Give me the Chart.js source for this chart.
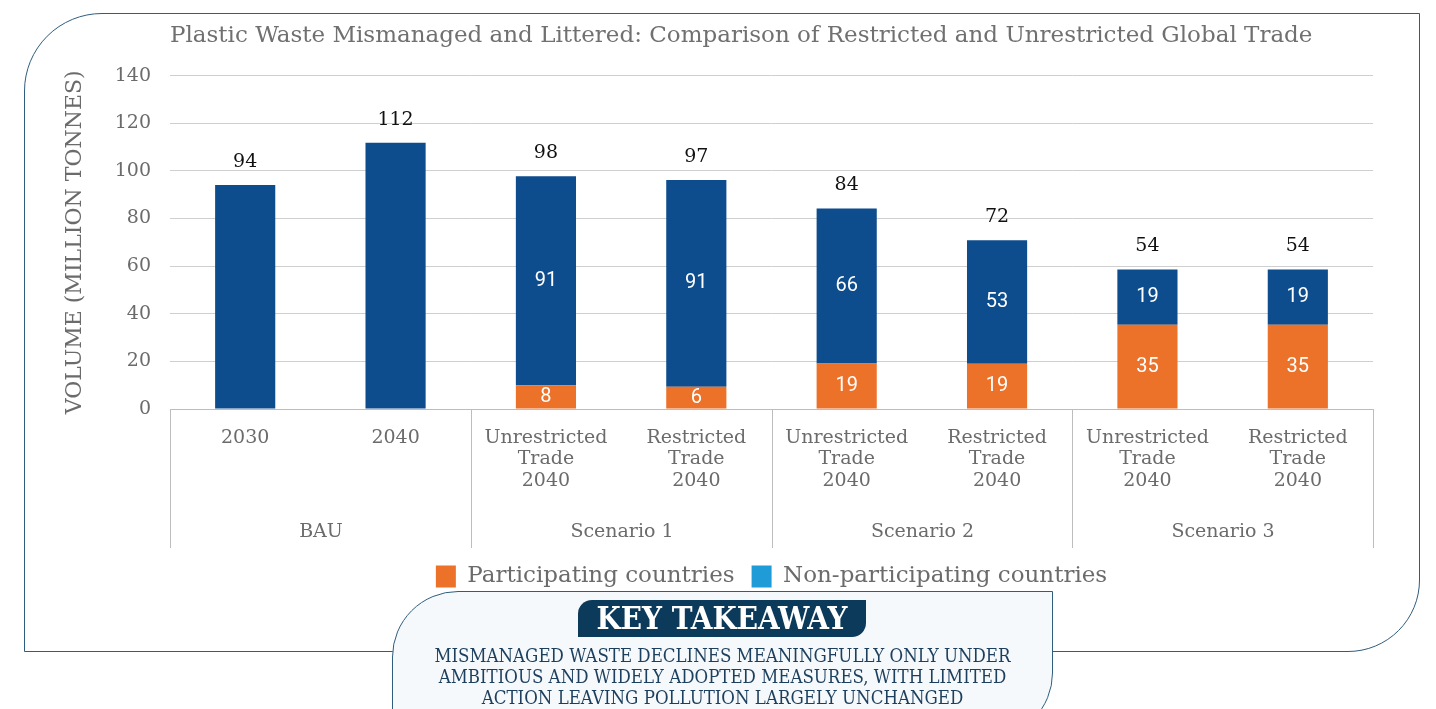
<!DOCTYPE html>
<html>
<head>
<meta charset="utf-8">
<script src="https://cdn.jsdelivr.net/npm/chart.js@4.4.1/dist/chart.umd.min.js"></script>
<style>
  html, body { margin: 0; padding: 0; background: #fff; width: 1436px; height: 709px; overflow: hidden; }
  #frame {
    position: absolute; left: 24px; top: 13px; width: 1394px; height: 637px;
    border: 1.5px solid #2f5d7e; border-top-left-radius: 78px; border-bottom-right-radius: 72px;
  }
  #chart { position: absolute; left: 0; top: 0; }
  #takeaway {
    position: absolute; left: 392px; top: 591px; width: 659px; height: 145px;
    border: 1.5px solid #2f5d7e; background: #f5f9fb;
    border-top-left-radius: 66px; border-bottom-right-radius: 65px;
    text-align: center;
  }
  #badge {
    position: absolute; left: 185px; top: 8px; width: 288px; height: 37px;
    background: #0c3a5a; color: #fff; border-top-left-radius: 14px; border-bottom-right-radius: 14px;
    font-family: 'DejaVu Serif Condensed', 'DejaVu Serif', serif; font-stretch: condensed;
    font-weight: bold; font-size: 31px; line-height: 37px;
  }
  #msg {
    position: absolute; left: 0; right: 0; top: 53px; white-space: nowrap;
    font-family: 'DejaVu Serif Condensed', 'DejaVu Serif', serif; font-stretch: condensed;
    font-size: 18.5px; line-height: 21px; color: #1d3f5e;
  }
</style>
</head>
<body>
<div id="frame"></div>
<canvas id="chart" width="1436" height="602"></canvas>
<div id="takeaway">
  <div id="badge">KEY TAKEAWAY</div>
  <div id="msg">MISMANAGED WASTE DECLINES MEANINGFULLY ONLY UNDER<br>AMBITIOUS AND WIDELY ADOPTED MEASURES, WITH LIMITED<br>ACTION LEAVING POLLUTION LARGELY UNCHANGED</div>
</div>
<script>
// categories and groups
const categories = [
  ['2030'], ['2040'],
  ['Unrestricted', 'Trade', '2040'], ['Restricted', 'Trade', '2040'],
  ['Unrestricted', 'Trade', '2040'], ['Restricted', 'Trade', '2040'],
  ['Unrestricted', 'Trade', '2040'], ['Restricted', 'Trade', '2040']
];
const groups = ['BAU', 'Scenario 1', 'Scenario 2', 'Scenario 3'];
const groupSizes = [2, 2, 2, 2];

// bar heights as drawn
const participating = [null, null, 10, 9.3, 19.1, 19, 35.4, 35.4];
const nonParticipating = [94.1, 111.8, 87.7, 86.9, 65.1, 51.9, 23.2, 23.2];

// printed labels
const participatingLabels = [null, null, 8, 6, 19, 19, 35, 35];
const nonParticipatingLabels = [null, null, 91, 91, 66, 53, 19, 19];
const totalLabels = [94, 112, 98, 97, 84, 72, 54, 54];

const yTicks = [0, 20, 40, 60, 80, 100, 120, 140];

const slab = "'DejaVu Serif', serif";
const grayText = '#6b6b6b';

const groupPlugin = {
  id: 'groupLabels',
  afterDraw(chart) {
    const x = chart.scales.x;
    const ctx = chart.ctx;
    const half = (x.getPixelForValue(1) - x.getPixelForValue(0)) / 2;
    ctx.save();
    ctx.strokeStyle = '#bdbdbd';
    ctx.lineWidth = 1;
    ctx.fillStyle = grayText;
    ctx.font = '19px ' + slab;
    ctx.textAlign = 'center';
    ctx.textBaseline = 'middle';
    let start = 0;
    groups.forEach((g, gi) => {
      const end = start + groupSizes[gi] - 1;
      const left = Math.round(x.getPixelForValue(start) - half) + 0.5;
      const right = Math.round(x.getPixelForValue(end) + half) + 0.5;
      ctx.beginPath();
      if (gi === 0) { ctx.moveTo(left, x.top); ctx.lineTo(left, x.bottom); }
      ctx.moveTo(right, x.top); ctx.lineTo(right, x.bottom);
      ctx.stroke();
      ctx.fillText(g, (left + right) / 2, x.bottom - 16);
      start = end + 1;
    });
    ctx.restore();
  }
};

const valuePlugin = {
  id: 'valueLabels',
  afterDatasetsDraw(chart) {
    const ctx = chart.ctx;
    ctx.save();
    ctx.textAlign = 'center';
    ctx.textBaseline = 'middle';
    ctx.font = '20px Roboto';
    ctx.fillStyle = '#ffffff';
    [participatingLabels, nonParticipatingLabels].forEach((labels, di) => {
      chart.getDatasetMeta(di).data.forEach((bar, i) => {
        if (labels[i] == null) return;
        ctx.fillText(String(labels[i]), bar.x, (bar.y + bar.base) / 2);
      });
    });
    ctx.font = '19px ' + slab;
    ctx.fillStyle = '#111111';
    chart.getDatasetMeta(1).data.forEach((bar, i) => {
      ctx.fillText(String(totalLabels[i]), bar.x, bar.y - 23);
    });
    ctx.restore();
  }
};

new Chart(document.getElementById('chart'), {
  type: 'bar',
  data: {
    labels: categories,
    datasets: [
      { label: 'Participating countries', data: participating, backgroundColor: '#ec7129', legendColor: '#ec7129' },
      { label: 'Non-participating countries', data: nonParticipating, backgroundColor: '#0e4d8d', legendColor: '#1f9bd7' }
    ]
  },
  options: {
    responsive: false,
    devicePixelRatio: 1,
    animation: false,
    layout: { padding: { left: 40, right: 63, top: 10, bottom: 4 } },
    datasets: { bar: { categoryPercentage: 1, barPercentage: 0.4 } },
    scales: {
      x: {
        stacked: true,
        grid: { display: false, drawTicks: false },
        border: { display: true, color: '#bdbdbd' },
        ticks: { color: grayText, font: { family: slab, size: 19, lineHeight: 1.13 }, padding: 18, autoSkip: false, maxRotation: 0 },
        afterFit(s) { s.height = 139; }
      },
      y: {
        stacked: true,
        min: 0, max: 140,
        afterBuildTicks(s) { s.ticks = yTicks.map(v => ({ value: v })); },
        grid: { color: '#cfcfcf', drawTicks: false },
        border: { display: false },
        ticks: { color: grayText, font: { family: slab, size: 19 }, padding: 19 },
        title: { display: true, text: 'VOLUME (MILLION TONNES)', color: grayText, font: { family: slab, size: 22 }, padding: { top: 22, bottom: 0 } },
        afterFit(s) { s.width = 130; }
      }
    },
    plugins: {
      title: {
        display: true,
        text: 'Plastic Waste Mismanaged and Littered: Comparison of Restricted and Unrestricted Global Trade',
        align: 'start',
        fullSize: false,
        color: '#707070',
        font: { family: slab, size: 23, weight: 'normal' },
        padding: { top: 12, bottom: 26 }
      },
      legend: {
        position: 'bottom',
        fullSize: false,
        labels: {
          color: grayText,
          font: { family: slab, size: 23 },
          boxWidth: 20, boxHeight: 22, padding: 17,
          generateLabels(chart) {
            return chart.data.datasets.map((ds, i) => ({
              text: ds.label, fillStyle: ds.legendColor, strokeStyle: ds.legendColor,
              lineWidth: 0, datasetIndex: i, fontColor: grayText
            }));
          }
        }
      },
      tooltip: { enabled: false }
    }
  },
  plugins: [groupPlugin, valuePlugin]
});
</script>
</body>
</html>
